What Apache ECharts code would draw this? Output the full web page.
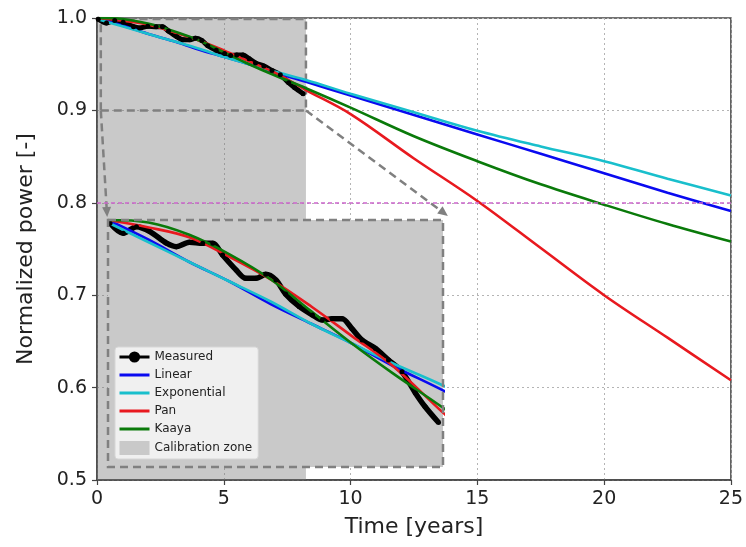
<!DOCTYPE html>
<html>
<head>
<meta charset="utf-8">
<script src="https://cdn.jsdelivr.net/npm/echarts@6/dist/echarts.min.js"></script>
<style>html,body{margin:0;padding:0;background:#fff}#c{width:746px;height:547px}</style>
</head>
<body>
<div id="c"></div>
<script>
// ---- data ----
const modelYears = [0, 1, 2, 3, 4, 5, 6, 7, 8.24, 10, 12.5, 15, 17.5, 20, 22.5, 25];
const linearVals = [1.000, 0.992, 0.983, 0.975, 0.966, 0.958, 0.950, 0.941, 0.931, 0.916, 0.895, 0.874, 0.853, 0.832, 0.811, 0.791];
const expVals    = [0.999, 0.991, 0.983, 0.975, 0.967, 0.958, 0.950, 0.942, 0.933, 0.918, 0.898, 0.878, 0.861, 0.845, 0.826, 0.808];
const panVals    = [1.000, 0.997, 0.993, 0.985, 0.976, 0.965, 0.953, 0.941, 0.922, 0.896, 0.848, 0.802, 0.751, 0.700, 0.654, 0.608];
const kaayaVals  = [1.000, 0.999, 0.994, 0.986, 0.976, 0.963, 0.950, 0.938, 0.924, 0.903, 0.872, 0.845, 0.820, 0.798, 0.777, 0.758];
const measYears = [0.05, 0.375, 0.70, 1.03, 1.44, 1.68, 2.0, 2.33, 2.58, 2.82, 3.15, 3.39, 3.64, 3.88, 4.13, 4.37, 4.70, 5.03, 5.27, 5.51, 5.76, 6.0, 6.25, 6.58, 6.9, 7.23, 7.56, 7.8, 8.13];
const measVals  = [0.9987, 0.9946, 0.9973, 0.9953, 0.9906, 0.9892, 0.9910, 0.9906, 0.9906, 0.9858, 0.9798, 0.9764, 0.9764, 0.9780, 0.9757, 0.9700, 0.9650, 0.9615, 0.9595, 0.9600, 0.9600, 0.9560, 0.9514, 0.9480, 0.9433, 0.9386, 0.9300, 0.9244, 0.9180];
const calibEnd = 8.24;
const thresholdLevel = 0.8;
const seriesNames = ['Measured', 'Linear', 'Exponential', 'Pan', 'Kaaya', 'Calibration zone'];
const xTickStep = 5, yTickStep = 0.1;

// ---- styles ----
const colors = {Measured:'#000000', Linear:'#0a0af0', Exponential:'#19bfcc', Pan:'#e8191f', Kaaya:'#0a7a0a'};
const zoneGray = 'rgba(120,120,120,0.40)';
const insetGray = '#c9c9c9';
const dashGray = '#808080';
const FONT = 'DejaVu Sans';

const pair = (xs, ys) => xs.map((x, i) => [x, ys[i]]);
const modelSets = {Linear: linearVals, Exponential: expVals, Pan: panVals, Kaaya: kaayaVals};

// inset placement (px)
const inset = {left: 108, top: 220, width: 335, height: 247};

const series = [];
series.push({
  name: 'Calibration zone', type: 'line', data: [], xAxisIndex: 0, yAxisIndex: 0, z: 1,
  color: insetGray, itemStyle: {color: insetGray},
  markArea: {silent: true, itemStyle: {color: zoneGray},
    data: [[{xAxis: 0, yAxis: 0.5}, {xAxis: calibEnd, yAxis: 1.0}]]}
});
series.push({
  name: 'decor', type: 'line', data: [], xAxisIndex: 0, yAxisIndex: 0, z: 3,
  markArea: {silent: true, itemStyle: {color: 'rgba(0,0,0,0)', borderColor: dashGray, borderWidth: 2.5, borderType: [8, 5]},
    data: [[{xAxis: 0.15, yAxis: 0.9}, {xAxis: calibEnd, yAxis: 0.999}]]},
  markLine: {silent: true, symbol: ['none', 'triangle'], symbolSize: [9, 10], label: {show: false},
    lineStyle: {color: dashGray, width: 2.5, type: [8, 5]},
    data: [
      [{coord: [0.15, 0.9]}, {coord: [0.39, 0.790]}],
      [{coord: [calibEnd, 0.9]}, {coord: [13.68, 0.789]}],
      [{coord: [0, thresholdLevel], symbol: 'none', lineStyle: {color: '#cc66cc', width: 1.5, type: [4, 3]}},
       {coord: [25, thresholdLevel], symbol: 'none'}]
    ]}
});
series.push({
  name: 'Measured', type: 'line', xAxisIndex: 0, yAxisIndex: 0, z: 2,
  data: pair(measYears, measVals), smooth: 0.3, color: colors.Measured,
  symbol: 'circle', symbolSize: 5, showSymbol: true, showAllSymbol: true,
  lineStyle: {width: 5, color: colors.Measured}, itemStyle: {color: colors.Measured}
});
for (const nm of ['Linear', 'Exponential', 'Pan', 'Kaaya']) {
  series.push({
    name: nm, type: 'line', xAxisIndex: 0, yAxisIndex: 0, z: 2,
    data: pair(modelYears, modelSets[nm]), smooth: 0.35, symbol: 'none', color: colors[nm],
    lineStyle: {width: 2.6, color: colors[nm]}, itemStyle: {color: colors[nm]}
  });
}
series.push({
  name: 'insetBg', type: 'line', data: [], xAxisIndex: 1, yAxisIndex: 1, z: 5,
  markArea: {silent: true, itemStyle: {color: insetGray},
    data: [[{xAxis: 0, yAxis: 0.9}, {xAxis: calibEnd, yAxis: 1.0}]]}
});
series.push({
  name: 'Measured', type: 'line', xAxisIndex: 1, yAxisIndex: 1, z: 6,
  data: pair(measYears, measVals), smooth: 0.3, color: colors.Measured,
  symbol: 'circle', symbolSize: 5, showSymbol: true, showAllSymbol: true,
  lineStyle: {width: 5.5, color: colors.Measured}, itemStyle: {color: colors.Measured}
});
for (const nm of ['Linear', 'Exponential', 'Pan', 'Kaaya']) {
  series.push({
    name: nm, type: 'line', xAxisIndex: 1, yAxisIndex: 1, z: 6,
    data: pair(modelYears, modelSets[nm]), smooth: 0.35, symbol: 'none', color: colors[nm],
    lineStyle: {width: 2.6, color: colors[nm]}, itemStyle: {color: colors[nm]}
  });
}

const option = {
  animation: false,
  backgroundColor: '#ffffff',
  textStyle: {fontFamily: FONT},
  grid: [
    {left: 97, right: 15, top: 18, bottom: 67, show: true, borderColor: '#444', borderWidth: 1.5, backgroundColor: 'transparent', containLabel: false},
    {left: inset.left, top: inset.top, width: inset.width, height: inset.height, show: false, containLabel: false}
  ],
  xAxis: [
    {gridIndex: 0, type: 'value', min: 0, max: 25, interval: xTickStep,
      name: 'Time [years]', nameLocation: 'middle', nameGap: 36,
      nameTextStyle: {fontFamily: FONT, fontSize: 22, color: '#222'},
      axisLine: {show: true, lineStyle: {color: '#444', width: 1.5}},
      axisTick: {show: true, inside: false, length: 5, lineStyle: {color: '#444', width: 1.2}},
      axisLabel: {fontFamily: FONT, fontSize: 19, color: '#222', margin: 10},
      splitLine: {show: true, lineStyle: {color: '#b4b4b4', width: 1, type: [2, 3]}}},
    {gridIndex: 1, type: 'value', min: 0, max: calibEnd, show: false}
  ],
  yAxis: [
    {gridIndex: 0, type: 'value', min: 0.5, max: 1.0, interval: yTickStep,
      name: 'Normalized power [-]', nameLocation: 'middle', nameGap: 60,
      nameTextStyle: {fontFamily: FONT, fontSize: 22, color: '#222'},
      axisLine: {show: true, lineStyle: {color: '#444', width: 1.5}},
      axisTick: {show: true, inside: false, length: 5, lineStyle: {color: '#444', width: 1.2}},
      axisLabel: {fontFamily: FONT, fontSize: 19, color: '#222', margin: 10, formatter: v => v.toFixed(1)},
      splitLine: {show: true, lineStyle: {color: '#b4b4b4', width: 1, type: [2, 3]}}},
    {gridIndex: 1, type: 'value', min: 0.9, max: 1.0, show: false}
  ],
  legend: {
    show: true, orient: 'vertical', left: 115, top: 347, z: 10,
    data: seriesNames.map(n => n === 'Calibration zone' ? {name: n, icon: 'rect'}
                              : (n === 'Measured' ? {name: n, lineStyle: {width: 3}}
                                 : {name: n, itemStyle: {opacity: 0}, lineStyle: {width: 3}})),
    itemWidth: 30, itemHeight: 14, itemGap: 6,
    padding: [4, 6, 4, 3],
    backgroundColor: 'rgba(243,243,243,0.92)', borderColor: '#d6d6d6', borderWidth: 1, borderRadius: 3,
    textStyle: {fontFamily: FONT, fontSize: 12, color: '#222'},
    selectedMode: false
  },
  graphic: [{
    type: 'rect', z: 8, silent: true,
    shape: {x: inset.left, y: inset.top, width: inset.width, height: inset.height},
    style: {fill: 'none', stroke: dashGray, lineWidth: 2.5, lineDash: [8, 5]}
  }],
  series: series
};
const chart = echarts.init(document.getElementById('c'), null, {renderer: 'canvas'});
chart.setOption(option);
</script>
</body>
</html>
